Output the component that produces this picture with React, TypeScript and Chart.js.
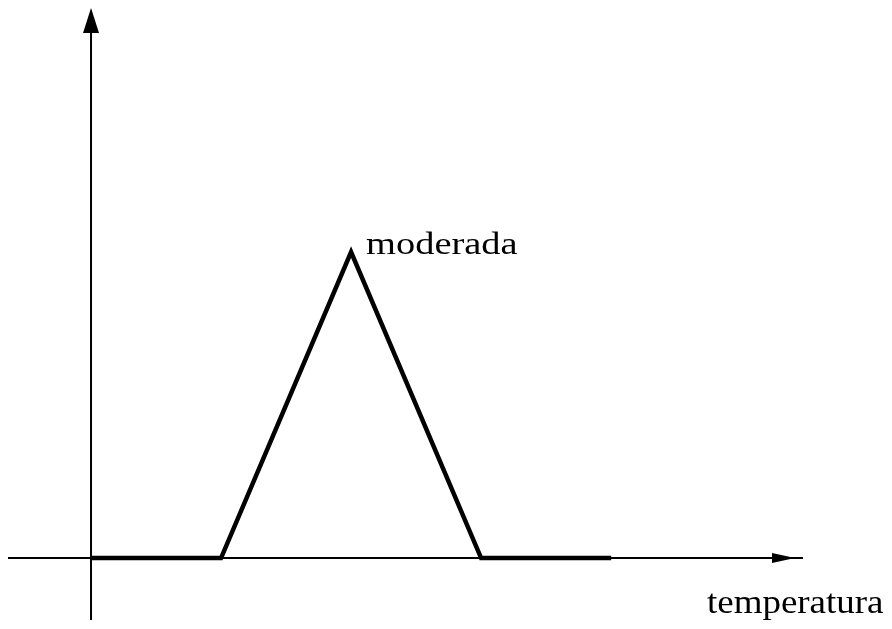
import React, { useEffect, useRef } from "react";
import { Chart, registerables } from "chart.js";

Chart.register(...registerables);

// Data (temperature units, membership degree)
const temperatures = [0, 10, 20, 30, 40];
const membership = [0, 0, 1, 0, 0];
const peakLabel = "moderada";
const xAxisLabel = "temperatura";

const axesPlugin = {
  id: "fuzzyAxes",
  afterDatasetsDraw(chart: any) {
    const { ctx, scales } = chart;
    const xs = scales.x;
    const ys = scales.y;
    const x0 = xs.getPixelForValue(0);
    const y0 = ys.getPixelForValue(0);
    ctx.save();
    ctx.strokeStyle = "#000";
    ctx.fillStyle = "#000";
    ctx.lineWidth = 2;
    // y axis
    ctx.beginPath();
    ctx.moveTo(x0, 14);
    ctx.lineTo(x0, 620);
    ctx.stroke();
    // x axis
    ctx.beginPath();
    ctx.moveTo(8, y0);
    ctx.lineTo(803, y0);
    ctx.stroke();
    // y arrow
    ctx.beginPath();
    ctx.moveTo(x0, 8);
    ctx.lineTo(x0 + 8, 33);
    ctx.lineTo(x0 - 8, 33);
    ctx.closePath();
    ctx.fill();
    // x arrow
    ctx.beginPath();
    ctx.moveTo(795, y0);
    ctx.lineTo(772, y0 - 5);
    ctx.lineTo(772, y0 + 5);
    ctx.closePath();
    ctx.fill();

    // labels
    const px = xs.getPixelForValue(temperatures[2]);
    const py = ys.getPixelForValue(membership[2]);
    ctx.textBaseline = "alphabetic";
    ctx.textAlign = "left";
    ctx.font = "31px 'Liberation Serif', 'Times New Roman', serif";
    ctx.save();
    ctx.translate(px + 15, py + 2);
    ctx.scale(1.24, 1);
    ctx.fillText(peakLabel, 0, 0);
    ctx.restore();

    ctx.font = "33px 'Liberation Serif', 'Times New Roman', serif";
    ctx.save();
    ctx.translate(707, y0 + 55);
    ctx.scale(1.12, 1);
    ctx.fillText(xAxisLabel, 0, 0);
    ctx.restore();
    ctx.restore();
  },
};

export default function App() {
  const ref = useRef<HTMLCanvasElement | null>(null);
  useEffect(() => {
    if (!ref.current) return;
    const chart = new Chart(ref.current, {
      type: "scatter",
      data: {
        datasets: [
          {
            data: temperatures.map((t, i) => ({ x: t, y: membership[i] })),
            showLine: true,
            borderColor: "#000",
            borderWidth: 4.5,
            pointRadius: 0,
            fill: false,
            tension: 0,
          },
        ],
      },
      options: {
        animation: false,
        responsive: false,
        maintainAspectRatio: false,
        layout: { padding: 0 },
        plugins: { legend: { display: false }, tooltip: { enabled: false } },
        scales: {
          x: { type: "linear", min: -7, max: 61.6, display: false },
          y: { type: "linear", min: -0.232, max: 1.8235, display: false },
        },
      },
      plugins: [axesPlugin],
    });
    return () => chart.destroy();
  }, []);
  return (
    <div style={{ position: "absolute", left: 0, top: 0, width: 892, height: 629, background: "#fff" }}>
      <canvas ref={ref} width={892} height={629} style={{ display: "block" }} />
    </div>
  );
}
